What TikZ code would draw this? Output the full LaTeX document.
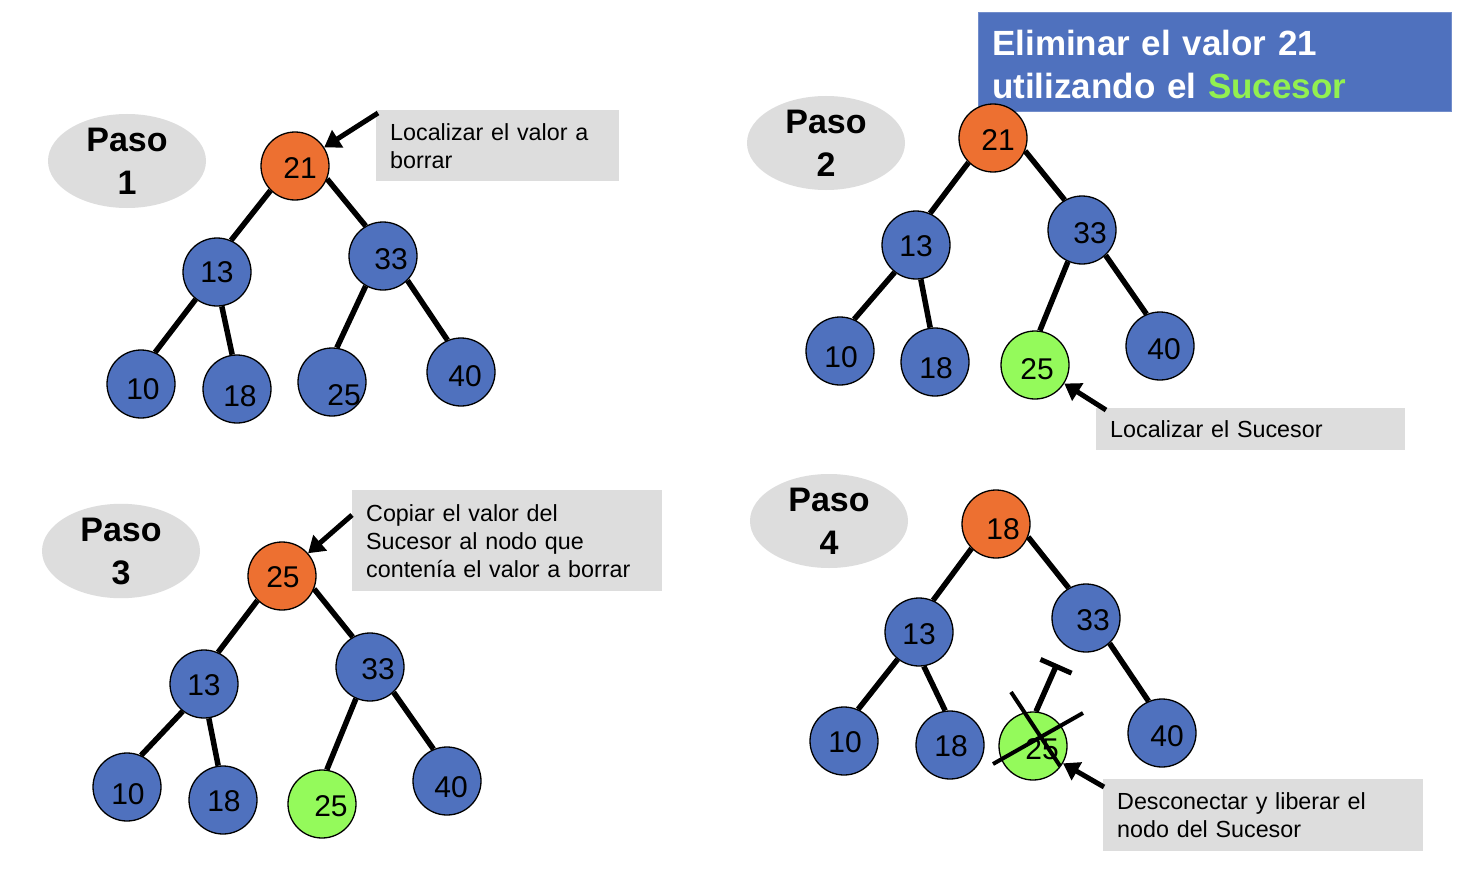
\documentclass[tikz,border=0pt]{standalone}
\usepackage{fontspec}
\setmainfont{Liberation Sans}
\usetikzlibrary{arrows.meta,calc,shapes.geometric}
\definecolor{nblue}{RGB}{79,113,190}
\definecolor{norange}{RGB}{237,112,49}
\definecolor{ngreen}{RGB}{148,250,91}
\definecolor{lgray}{RGB}{221,221,221}
\definecolor{tgreen}{RGB}{146,240,80}
\begin{document}
\begin{tikzpicture}[x=1pt,y=-1pt,
  tn/.style={circle,draw=black,line width=1.3pt,minimum size=68pt,inner sep=0pt},
  bn/.style={tn,fill=nblue},
  on/.style={tn,fill=norange},
  gn/.style={tn,fill=ngreen},
  num/.style={font=\fontsize{30}{30}\selectfont,inner sep=0pt},
  edge/.style={line width=5.5pt},
  arr/.style={line width=5pt,-{Triangle[length=16pt,width=20pt]}},
  paso/.style={ellipse,fill=lgray,minimum width=158pt,minimum height=94pt,inner sep=0pt,align=center,font=\fontsize{34}{43}\selectfont\bfseries},
  lbl/.style={rectangle,fill=lgray,anchor=north west,inner xsep=14pt,inner ysep=0pt,align=left,font=\fontsize{23.3}{28}\selectfont},
  cross/.style={line width=4pt}
]
\useasboundingbox (0,0) rectangle (1466,872);
\fill[white] (0,0) rectangle (1466,872);

% ---------------- Step 1 ----------------
\node[paso] (p1) at (127,161) {Paso\\1};
\node[on,label={[num,xshift=5pt,yshift=-2pt]center:21}] (a21) at (295,166) {};
\node[bn,label={[num]center:13}] (a13) at (217,272) {};
\node[bn,label={[num,xshift=8pt,yshift=-3pt]center:33}] (a33) at (383,256) {};
\node[bn,label={[num,xshift=2pt,yshift=-5pt]center:10}] (a10) at (141,384) {};
\node[bn,label={[num,xshift=3pt,yshift=-7pt]center:18}] (a18) at (237,389) {};
\node[bn,label={[num,xshift=12pt,yshift=-13pt]center:25}] (a25) at (332,382) {};
\node[bn,label={[num,xshift=4pt,yshift=-4pt]center:40}] (a40) at (461,372) {};
\draw[edge] (a21.-135) -- (a13.66);
\draw[edge] (a21.-22) -- (a33.120);
\draw[edge] (a13.-128) -- (a10.66);
\draw[edge] (a13.-82) -- (a18.98);
\draw[edge] (a33.-120) -- (a25.82);
\draw[edge] (a33.-45) -- (a40.113);
\node[lbl,text width=215pt,minimum height=71pt] (l1) at (376,110) {Localizar el valor a\\borrar};
\coordinate (c1) at (378,113);
\draw[arr] (c1) -- (a21);

% ---------------- Step 2 ----------------
\node[rectangle,fill=nblue,draw=nblue!80!white,anchor=north west,minimum width=473pt,minimum height=99pt,inner sep=0pt] (title) at (978,12) {};
\node[text width=445pt,inner sep=0pt,align=left,text=white,font=\fontsize{35}{43}\selectfont\bfseries,yshift=-3pt] (titlet) at (title.center) {Eliminar el valor 21\\utilizando el \textcolor{tgreen}{Sucesor}};
\node[paso] (p2) at (826,143) {Paso\\2};
\node[on,label={[num,xshift=5pt,yshift=-2pt]center:21}] (b21) at (993,138) {};
\node[bn,label={[num,yshift=-1pt]center:13}] (b13) at (916,245) {};
\node[bn,label={[num,xshift=8pt,yshift=-3pt]center:33}] (b33) at (1082,230) {};
\node[bn,label={[num,xshift=1pt,yshift=-6pt]center:10}] (b10) at (840,351) {};
\node[bn,label={[num,xshift=1pt,yshift=-6pt]center:18}] (b18) at (935,362) {};
\node[gn,label={[num,xshift=2pt,yshift=-4pt]center:25}] (b25) at (1035,365) {};
\node[bn,label={[num,xshift=4pt,yshift=-3pt]center:40}] (b40) at (1160,346) {};
\draw[edge] (b21.-135) -- (b13.66);
\draw[edge] (b21.-22) -- (b33.120);
\draw[edge] (b13.-128) -- (b10.66);
\draw[edge] (b13.-82) -- (b18.98);
\draw[edge] (b33.-114) -- (b25.82);
\draw[edge] (b33.-47) -- (b40.113);
\node[lbl,text width=281pt,minimum height=42pt] (l2) at (1096,408) {Localizar el Sucesor};
\coordinate (c2) at (1106,410);
\draw[arr] (c2) -- (b25);

% ---------------- Step 3 ----------------
\node[paso] (p3) at (121,551) {Paso\\3};
\node[on,label={[num,xshift=1pt,yshift=-1pt]center:25}] (d25) at (282,576) {};
\node[bn,label={[num,yshift=-1pt]center:13}] (d13) at (204,684) {};
\node[bn,label={[num,xshift=8pt,yshift=-2pt]center:33}] (d33) at (370,667) {};
\node[bn,label={[num,xshift=1pt,yshift=-7pt]center:10}] (d10) at (127,787) {};
\node[bn,label={[num,xshift=1pt,yshift=-1pt]center:18}] (d18) at (223,800) {};
\node[gn,label={[num,xshift=9pt,yshift=-2pt]center:25}] (d25g) at (322,804) {};
\node[bn,label={[num,xshift=4pt,yshift=-6pt]center:40}] (d40) at (447,781) {};
\draw[edge] (d25.-135) -- (d13.66);
\draw[edge] (d25.-22) -- (d33.120);
\draw[edge] (d13.-128) -- (d10.66);
\draw[edge] (d13.-82) -- (d18.98);
\draw[edge] (d33.-114) -- (d25g.82);
\draw[edge] (d33.-47) -- (d40.113);
\node[lbl,text width=282pt,minimum height=101pt] (l3) at (352,490) {Copiar el valor del\\Sucesor al nodo que\\contenía el valor a borrar};
\coordinate (c3) at (352,515);
\draw[arr] (c3) -- (d25);

% ---------------- Step 4 ----------------
\node[paso] (p4) at (829,521) {Paso\\4};
\node[on,label={[num,xshift=7pt,yshift=-5pt]center:18}] (e18r) at (996,524) {};
\node[bn,label={[num,yshift=-2pt]center:13}] (e13) at (919,632) {};
\node[bn,label={[num,xshift=7pt,yshift=-2pt]center:33}] (e33) at (1086,618) {};
\node[bn,label={[num,xshift=1pt,yshift=-1pt]center:10}] (e10) at (844,741) {};
\node[bn,label={[num,xshift=1pt,yshift=-1pt]center:18}] (e18) at (950,745) {};
\node[gn,label={[num,xshift=9pt,yshift=-3pt]center:25}] (e25) at (1033,746) {};
\node[bn,label={[num,xshift=5pt,yshift=-3pt]center:40}] (e40) at (1162,733) {};
\draw[edge] (e18r.-135) -- (e13.66);
\draw[edge] (e18r.-22) -- (e33.120);
\draw[edge] (e13.-128) -- (e10.66);
\draw[edge] (e13.-82) -- (e18.98);
\draw[edge] (e33.-47) -- (e40.113);
\coordinate (cut) at (1057,664);
\draw[line width=5.5pt,-{Bar[width=34pt,line width=5pt]}] (e25.85) -- (cut);
\coordinate (x1a) at (1011,692);
\coordinate (x1b) at (1060,766);
\coordinate (x2a) at (993,764);
\coordinate (x2b) at (1083,713);
\draw[cross] (x1a) -- (x1b);
\draw[cross] (x2a) -- (x2b);
\node[lbl,text width=292pt,minimum height=72pt] (l4) at (1103,779) {Desconectar y liberar el\\nodo del Sucesor};
\coordinate (c4) at (1104,787);
\draw[arr] (c4) -- (e25);
\end{tikzpicture}
\end{document}
